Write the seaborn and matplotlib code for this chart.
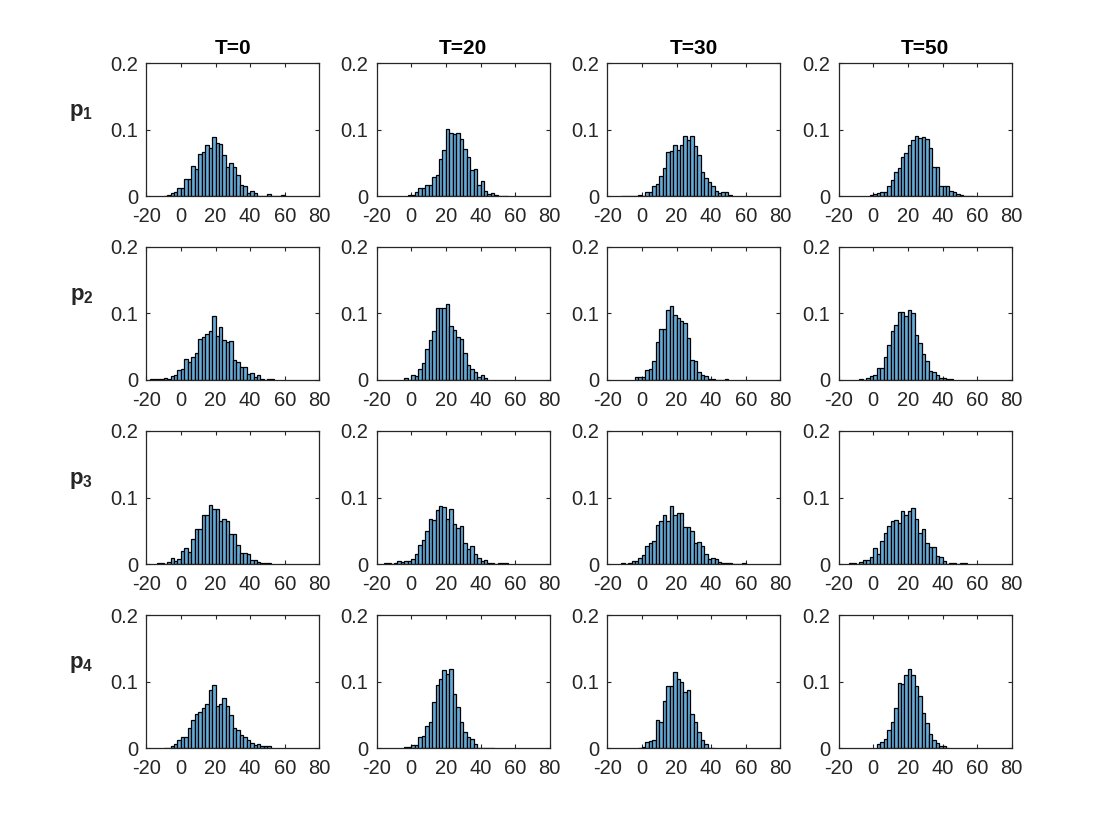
import numpy as np
import pandas as pd
import matplotlib
matplotlib.use("Agg")
import matplotlib.pyplot as plt
import seaborn as sns

# ---------------- data (probability per bin, bin width 2) ----------------
times = ["T=0", "T=20", "T=30", "T=50"]
rows = ["p_1", "p_2", "p_3", "p_4"]
bin_width = 2

# row p1
p1_T0_start = -10
p1_T0 = [0.001, 0.0025, 0.0055, 0.007, 0.012, 0.013, 0.0265, 0.0265, 0.046, 0.0415,
         0.064, 0.067, 0.0775, 0.073, 0.0895, 0.0805, 0.0785, 0.0625, 0.0445, 0.0505,
         0.0445, 0.0325, 0.0175, 0.015, 0.0055, 0.0085, 0.0055, 0.001, 0.001, 0.001,
         0.003, 0.0, 0.001, 0.0, 0.0025]
p1_T20_start = -2
p1_T20 = [0.0025, 0.0025, 0.006, 0.012, 0.012, 0.0175, 0.0175, 0.0295, 0.0325, 0.0565,
          0.069, 0.1015, 0.0955, 0.094, 0.0955, 0.0865, 0.0715, 0.0595, 0.040, 0.0415,
          0.0175, 0.0235, 0.0085, 0.004, 0.0055, 0.0025, 0.0, 0.0, 0.001]
p1_T30_start = -12
p1_T30 = [0.001, 0.0, 0.0, 0.001, 0.0, 0.002, 0.001, 0.006, 0.006, 0.015,
          0.018, 0.031, 0.043, 0.067, 0.068, 0.077, 0.069, 0.077, 0.091, 0.084,
          0.091, 0.076, 0.062, 0.036, 0.028, 0.021, 0.016, 0.008, 0.005, 0.006,
          0.006, 0.002]
p1_T50_start = -2
p1_T50 = [0.002, 0.004, 0.0055, 0.007, 0.006, 0.016, 0.025, 0.036, 0.042, 0.059,
          0.065, 0.077, 0.084, 0.091, 0.087, 0.089, 0.086, 0.073, 0.044, 0.044,
          0.015, 0.015, 0.015, 0.008, 0.006, 0.004, 0.002, 0.001, 0.0005, 0.001]

# row p2
p2_T0_start = -18
p2_T0 = [0.001, 0.001, 0.001, 0.001, 0.003, 0.001, 0.0055, 0.007, 0.015, 0.017,
         0.031, 0.027, 0.035, 0.041, 0.062, 0.065, 0.069, 0.073, 0.096, 0.066,
         0.079, 0.060, 0.057, 0.058, 0.030, 0.027, 0.020, 0.019, 0.009, 0.010,
         0.005, 0.007, 0.001, 0.0, 0.001, 0.002]
p2_T20_start = -4
p2_T20 = [0.003, 0.0, 0.008, 0.006, 0.016, 0.026, 0.046, 0.060, 0.073, 0.109,
          0.109, 0.109, 0.115, 0.081, 0.075, 0.064, 0.062, 0.041, 0.022, 0.017,
          0.012, 0.004, 0.008, 0.003]
p2_T30_start = -4
p2_T30 = [0.004, 0.004, 0.004, 0.015, 0.017, 0.029, 0.057, 0.077, 0.076, 0.106,
          0.111, 0.098, 0.093, 0.088, 0.085, 0.063, 0.030, 0.029, 0.012, 0.008,
          0.006, 0.001, 0.001, 0.0, 0.0, 0.0, 0.001]
p2_T50_start = -8
p2_T50 = [0.001, 0.0, 0.003, 0.006, 0.008, 0.0175, 0.0175, 0.035, 0.053, 0.073,
          0.083, 0.102, 0.102, 0.096, 0.105, 0.101, 0.068, 0.056, 0.039, 0.028,
          0.014, 0.012, 0.008, 0.003, 0.003, 0.001, 0.001]

# row p3
p3_T0_start = -14
p3_T0 = [0.001, 0.001, 0.0, 0.003, 0.009, 0.004, 0.007, 0.019, 0.024, 0.018,
         0.038, 0.053, 0.053, 0.074, 0.074, 0.088, 0.082, 0.083, 0.064, 0.067,
         0.065, 0.045, 0.045, 0.028, 0.017, 0.016, 0.015, 0.006, 0.006, 0.003,
         0.002, 0.001, 0.001]
p3_T20_start = -16
p3_T20 = [0.002, 0.001, 0.0, 0.001, 0.004, 0.003, 0.005, 0.005, 0.008, 0.015,
          0.029, 0.036, 0.049, 0.068, 0.066, 0.081, 0.087, 0.085, 0.068, 0.083,
          0.060, 0.054, 0.057, 0.031, 0.023, 0.027, 0.015, 0.009, 0.004, 0.006,
          0.001, 0.001, 0.0, 0.001, 0.001, 0.001]
p3_T30_start = -12
p3_T30 = [0.002, 0.0, 0.001, 0.005, 0.005, 0.009, 0.013, 0.027, 0.031, 0.034,
          0.059, 0.065, 0.074, 0.064, 0.087, 0.073, 0.077, 0.076, 0.056, 0.056,
          0.049, 0.032, 0.033, 0.027, 0.015, 0.008, 0.009, 0.007, 0.003, 0.001,
          0.001, 0.001, 0.0, 0.0, 0.0, 0.001]
p3_T50_start = -14
p3_T50 = [0.001, 0.001, 0.0, 0.003, 0.006, 0.006, 0.010, 0.024, 0.015, 0.035,
          0.046, 0.057, 0.064, 0.066, 0.061, 0.080, 0.074, 0.079, 0.084, 0.068,
          0.046, 0.052, 0.032, 0.026, 0.025, 0.012, 0.010, 0.004, 0.0, 0.001,
          0.001, 0.0, 0.001, 0.001]

# row p4
p4_T0_start = -10
p4_T0 = [0.001, 0.0, 0.003, 0.007, 0.013, 0.017, 0.017, 0.031, 0.042, 0.052,
         0.054, 0.061, 0.066, 0.088, 0.095, 0.064, 0.067, 0.076, 0.063, 0.050,
         0.030, 0.027, 0.020, 0.017, 0.012, 0.008, 0.005, 0.006, 0.004, 0.003,
         0.003]
p4_T20_start = -4
p4_T20 = [0.002, 0.002, 0.005, 0.005, 0.017, 0.019, 0.033, 0.040, 0.070, 0.095,
          0.104, 0.118, 0.111, 0.120, 0.081, 0.062, 0.039, 0.024, 0.017, 0.014,
          0.007, 0.001, 0.001, 0.001, 0.0, 0.001]
p4_T30_start = -2
p4_T30 = [0.001, 0.002, 0.009, 0.011, 0.013, 0.042, 0.039, 0.071, 0.093, 0.093,
          0.114, 0.104, 0.099, 0.084, 0.088, 0.051, 0.039, 0.024, 0.013, 0.006,
          0.001, 0.001]
p4_T50_start = 2
p4_T50 = [0.006, 0.009, 0.014, 0.027, 0.039, 0.061, 0.098, 0.096, 0.110, 0.119,
          0.110, 0.093, 0.078, 0.053, 0.038, 0.021, 0.012, 0.008, 0.003, 0.003,
          0.001]

panels = [
    [(p1_T0_start, p1_T0), (p1_T20_start, p1_T20), (p1_T30_start, p1_T30), (p1_T50_start, p1_T50)],
    [(p2_T0_start, p2_T0), (p2_T20_start, p2_T20), (p2_T30_start, p2_T30), (p2_T50_start, p2_T50)],
    [(p3_T0_start, p3_T0), (p3_T20_start, p3_T20), (p3_T30_start, p3_T30), (p3_T50_start, p3_T50)],
    [(p4_T0_start, p4_T0), (p4_T20_start, p4_T20), (p4_T30_start, p4_T30), (p4_T50_start, p4_T50)],
]

xticks = [-20, 0, 20, 40, 60, 80]
yticks = [0, 0.1, 0.2]
ytick_labels = ["0", "0.1", "0.2"]

# ---------------- style ----------------
sns.set_theme(style="white")
plt.rcParams["font.family"] = ["Liberation Sans", "DejaVu Sans"]
plt.rcParams["mathtext.fontset"] = "custom"
plt.rcParams["mathtext.rm"] = "Liberation Sans"
plt.rcParams["mathtext.bf"] = "Liberation Sans:bold"

axis_col = "#262626"
bar_col = (0.4, 0.668, 0.846)

fig = plt.figure(figsize=(11.2, 8.4), dpi=100)
W, H = 1120, 840
col_left = [146.3, 376.7, 607.3, 838.7]
row_top = [63.3, 247.0, 431.0, 615.3]
ax_w, ax_h = 173.0, 133.0

for r in range(4):
    for c in range(4):
        start, vals = panels[r][c]
        vals = np.asarray(vals, dtype=float)
        n = len(vals)
        centers = start + bin_width * np.arange(n) + bin_width / 2
        df = pd.DataFrame({"x": centers, "w": vals})
        ax = fig.add_axes([col_left[c] / W, 1 - (row_top[r] + ax_h) / H, ax_w / W, ax_h / H])
        sns.histplot(data=df, x="x", weights="w", binwidth=bin_width,
                     binrange=(start, start + bin_width * n), stat="count",
                     color=bar_col, alpha=1.0, edgecolor="black", linewidth=0.9, ax=ax)
        ax.set_xlim(-20, 80)
        ax.set_ylim(0, 0.2)
        ax.set_xticks(xticks)
        ax.set_xticklabels([str(t) for t in xticks])
        ax.set_yticks(yticks)
        ax.set_yticklabels(ytick_labels)
        ax.set_xlabel("")
        ax.set_ylabel("")
        ax.tick_params(axis="both", which="both", direction="in", length=3,
                       width=0.8, colors=axis_col, labelcolor=axis_col, labelsize=14.5,
                       top=True, right=True, bottom=True, left=True)
        ax.tick_params(axis="x", pad=8)
        ax.tick_params(axis="y", pad=6)
        for s in ax.spines.values():
            s.set_visible(True)
            s.set_color(axis_col)
            s.set_linewidth(0.9)
        if r == 0:
            ax.set_title(times[c], fontsize=15, fontweight="bold", color="black", pad=7)
        if c == 0:
            lab = rows[r].split("_")
            ax.text(-0.375, 0.63, r"$\mathbf{%s}_\mathbf{%s}$" % (lab[0], lab[1]),
                    transform=ax.transAxes, fontsize=16, color=axis_col,
                    ha="center", va="center")

fig.savefig("out.png", dpi=100, facecolor="white")
